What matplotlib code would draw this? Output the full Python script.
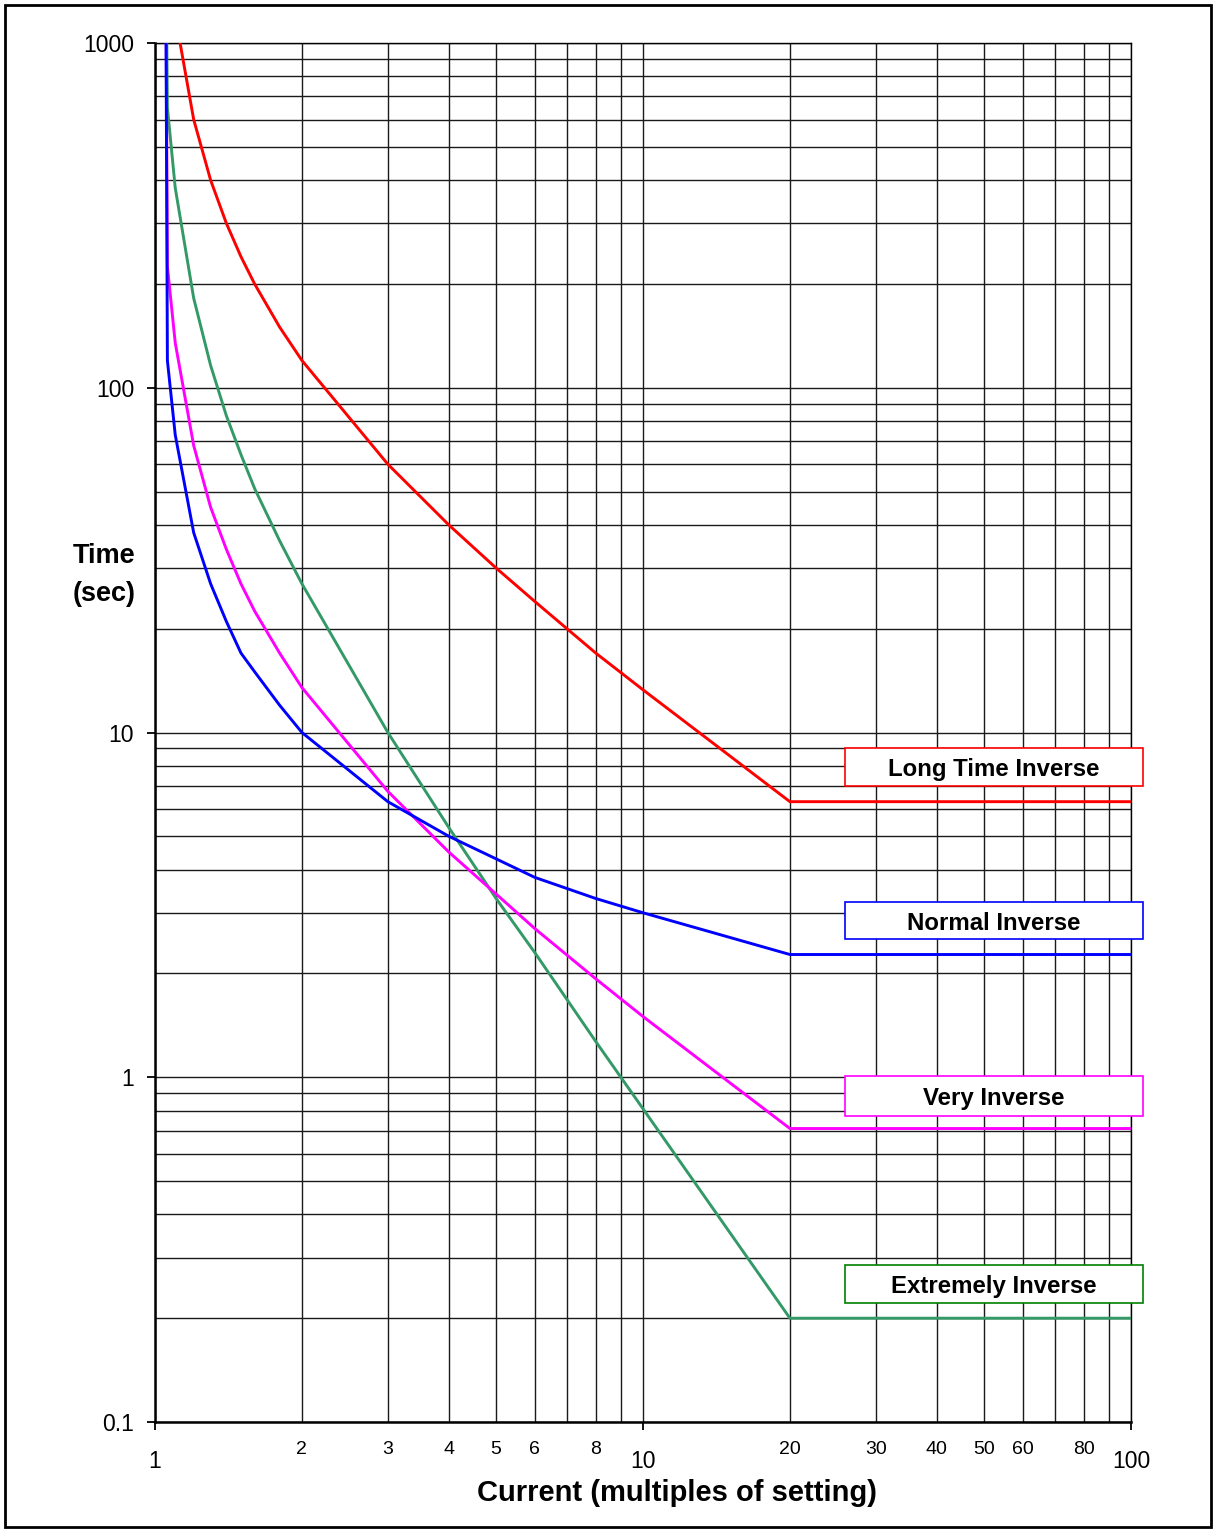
#!/usr/bin/env python3
"""
Curvas tempo x corrente (IEC) - multiplos do ajuste
"""

import matplotlib
matplotlib.use("Agg")
import matplotlib.pyplot as plt
from matplotlib.patches import Rectangle

plt.rcParams['font.family'] = ['Liberation Sans', 'DejaVu Sans']

# Dados
CORRENTE = [1.05, 1.06, 1.1, 1.2, 1.3, 1.4, 1.5, 1.6, 1.8, 2, 3, 4, 5, 6, 8, 10, 20, 100]
LONG_TIME = [2400, 2000, 1200, 600, 400, 300, 240, 200, 150, 120, 60, 40, 30, 24, 17, 13.3, 6.3, 6.3]
NORMAL = [3000, 120, 73, 38, 27, 21, 17, 15, 12, 10, 6.3, 5.0, 4.3, 3.8, 3.3, 3.0, 2.27, 2.27]
VERY = [3000, 225, 135, 68, 45, 34, 27, 22.5, 17, 13.5, 6.75, 4.5, 3.4, 2.7, 1.93, 1.5, 0.71, 0.71]
EXTREMELY = [3000, 650, 380, 182, 116, 83, 64, 51, 36, 27, 10, 5.3, 3.3, 2.3, 1.27, 0.81, 0.2, 0.2]

CURVAS = ["Long Time Inverse", "Normal Inverse", "Very Inverse", "Extremely Inverse"]
CORES = ["#FF0000", "#0000FF", "#FF00FF", "#339966"]
CORES_CAIXA = ["#FF0000", "#0000FF", "#FF00FF", "#008000"]
# posicao vertical das caixas (fracao do eixo): base, altura
CAIXAS_Y = [(0.461, 0.028), (0.350, 0.027), (0.222, 0.029), (0.086, 0.028)]

X_MAJOR = [1, 10, 100]
X_MINOR = [2, 3, 4, 5, 6, 7, 8, 9, 20, 30, 40, 50, 60, 70, 80, 90]
X_MINOR_LABELS = ["2", "3", "4", "5", "6", "", "8", "", "20", "30", "40", "50", "60", "", "80", ""]
Y_MAJOR = [0.1, 1, 10, 100, 1000]
Y_MAJOR_LABELS = ["0.1", "1", "10", "100", "1000"]

fig = plt.figure(figsize=(12.16, 15.31), dpi=100)
ax = fig.add_axes([0.1275, 0.0712, 0.8026, 0.9007])

ax.set_xscale('log')
ax.set_yscale('log')
ax.set_xlim(1, 100)
ax.set_ylim(0.1, 1000)

# grade
y_minor = [m * d for d in [0.1, 1, 10, 100] for m in range(2, 10)]
ax.set_yticks(Y_MAJOR, labels=Y_MAJOR_LABELS)
ax.set_yticks(y_minor, minor=True)
ax.set_yticklabels([], minor=True)
ax.set_xticks(X_MAJOR, labels=[str(v) for v in X_MAJOR])
ax.set_xticks(X_MINOR, labels=X_MINOR_LABELS, minor=True)
ax.grid(True, which='both', color='#1a1a1a', linewidth=1.0)
ax.set_axisbelow(True)

ax.tick_params(axis='both', which='major', direction='out', length=6, width=1.3,
               color='black', labelsize=16.5)
ax.tick_params(axis='y', which='major', pad=9)
ax.tick_params(axis='x', which='major', pad=14)
ax.tick_params(axis='x', which='minor', length=0, labelsize=14, pad=13.5)
ax.tick_params(axis='y', which='minor', length=0)

for lado in ['left', 'bottom']:
    ax.spines[lado].set_linewidth(1.8)
for lado in ['top', 'right']:
    ax.spines[lado].set_linewidth(1.0)

series = [LONG_TIME, NORMAL, VERY, EXTREMELY]
ordem = [0, 3, 2, 1]
for i in ordem:
    ax.plot(CORRENTE, series[i], color=CORES[i], linewidth=2.1, zorder=3 + ordem.index(i))

# caixas com os nomes das curvas
x0 = 0.707
largura = 1.0123 - x0
for nome, cor, (yb, h) in zip(CURVAS, CORES_CAIXA, CAIXAS_Y):
    ax.add_patch(Rectangle((x0, yb), largura, h, transform=ax.transAxes,
                           facecolor='white', edgecolor=cor, linewidth=1.2,
                           clip_on=False, zorder=10))
    ax.text(x0 + largura / 2, yb + h / 2 - 0.002, nome, transform=ax.transAxes,
            ha='center', va='center', fontsize=17.3, fontweight='bold', zorder=11)

fig.text(104 / 1216, 1 - 575 / 1531, "Time\n(sec)", ha='center', va='center',
         fontsize=19.5, fontweight='bold', linespacing=1.6)
fig.text(677 / 1216, 1 - 1493 / 1531, "Current (multiples of setting)",
         ha='center', va='center', fontsize=21, fontweight='bold')

# moldura externa
fig.patches.append(Rectangle((5 / 1216, 4 / 1531), 1206 / 1216, 1522 / 1531,
                             transform=fig.transFigure, fill=False,
                             edgecolor='black', linewidth=2.0))

fig.savefig("out.png", dpi=100)
plt.close(fig)
